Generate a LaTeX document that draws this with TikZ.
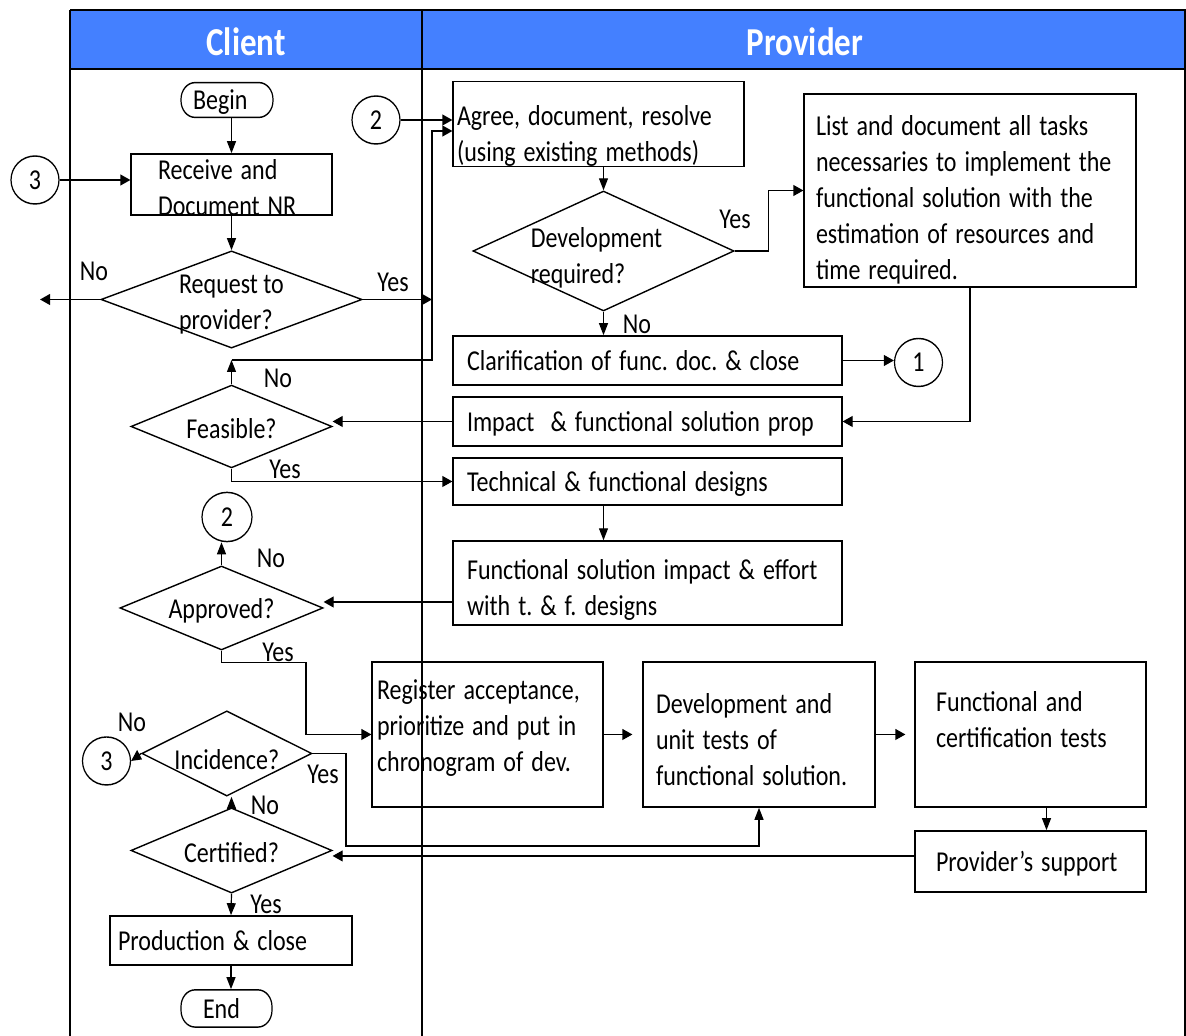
\documentclass[tikz,border=0pt]{standalone}
\usepackage{fontspec}
\setmainfont{Carlito}
\usetikzlibrary{shapes.geometric,arrows.meta}
\definecolor{laneblue}{RGB}{68,128,255}
\frenchspacing

\begin{document}
\begin{tikzpicture}[x=1pt,y=-0.8333pt,
	line width=1.2pt,
	font=\fontsize{24}{30}\selectfont,
	box/.style={draw, rectangle, align=left, inner sep=0pt},
	oneline/.style={text depth=0pt},
	decision/.style={draw, diamond, inner sep=0pt},
	term/.style={draw, rectangle, rounded corners=14pt, inner sep=0pt, align=left, text depth=0pt},
	conn/.style={draw, ellipse, inner sep=0pt, minimum width=48pt, minimum height=40pt},
	dtext/.style={align=left, inner sep=0pt},
	tag/.style={inner sep=0pt},
	arr/.style={-{Triangle[length=10pt,width=9pt]}}
]
	\useasboundingbox (0pt,0pt) rectangle (1186pt,-1036pt);
	\begin{scope}[transform canvas={yscale=1.2}]

	% swimlanes
	\fill[laneblue] (70,10) rectangle (1186,69);
	\draw (70,10) -- (1186,10) (70,69) -- (1186,69);
	\draw (70,10) -- (70,1036) (422,10) -- (422,1036) (1185,10) -- (1185,1036);
	\node (client) at (246,42) [font=\fontsize{33}{36}\selectfont\bfseries, text=white] {Client};
	\node (provider) at (805,42) [font=\fontsize{33}{36}\selectfont\bfseries, text=white] {Provider};

	% client lane
	\node (begin) at (227,100) [term, minimum width=92pt, minimum height=29pt, text width=68pt] {Begin};
	\node (rcv) at (231.5,184.5) [box, minimum width=201pt, minimum height=51pt, text width=147pt, text height=18pt, text depth=25.5pt] {Receive and\\Document NR};
	\node (c3a) at (35,180) [conn] {3};
	\node (req) at (231.5,299.5) [decision, minimum width=261pt, minimum height=81pt, label={[dtext,yshift=-4pt]center:Request to\\provider?}] {};
	\node (feas) at (231.5,426.5) [decision, minimum width=201pt, minimum height=69pt, label={[dtext,yshift=-2pt]center:Feasible?}] {};
	\node (c2b) at (227,517) [conn, minimum width=50pt, minimum height=41pt] {2};
	\node (appr) at (221.5,608) [decision, minimum width=203pt, minimum height=70pt, label={[dtext,yshift=-2pt]center:Approved?}] {};
	\node (inc) at (226.8,753.5) [decision, minimum width=170pt, minimum height=71pt, label={[dtext,yshift=-5pt]center:Incidence?}] {};
	\node (c3b) at (106.5,761) [conn] {3};
	\node (cert) at (231.5,850.5) [decision, minimum width=201pt, minimum height=71pt, label={[dtext,yshift=-2pt]center:Certified?}] {};
	\node (prod) at (231,940.5) [box, oneline, minimum width=242pt, minimum height=41pt, text width=226pt] {Production \& close};
	\node (endn) at (226.5,1008.5) [term, minimum width=91pt, minimum height=31pt, text width=47pt] {End};

	% provider lane
	\node (c2a) at (376,120) [conn] {2};
	\node (agree) at (598.5,124) [box, minimum width=291pt, minimum height=70pt, text width=283pt, text height=37pt] {Agree, document, resolve\\(using existing methods)};
	\node (devq) at (603.5,251) [decision, minimum width=261pt, minimum height=100pt, label={[dtext,xshift=-7pt,yshift=-6pt]center:Development\\required?}] {};
	\node (list) at (970,190.5) [box, minimum width=332pt, minimum height=161pt, text width=308pt, text height=33pt] {List and document all tasks\\necessaries to implement the\\functional solution with the\\estimation of resources and\\time required.};
	\node (clar) at (647.5,360.5) [box, oneline, minimum width=389pt, minimum height=41pt, text width=361pt] {Clarification of func. doc. \& close};
	\node (c1) at (918.5,362.5) [conn] {1};
	\node (impact) at (647.5,421.5) [box, oneline, minimum width=389pt, minimum height=41pt, text width=361pt] {Impact\ \ \& functional solution prop};
	\node (tech) at (647.5,481.5) [box, oneline, minimum width=389pt, minimum height=39pt, text width=361pt] {Technical \& functional designs};
	\node (fsol) at (647.5,583) [box, minimum width=389pt, minimum height=70pt, text width=361pt, text height=27.5pt] {Functional solution impact \& effort\\with t. \& f. designs};
	\node (reg) at (487.5,734.5) [box, minimum width=231pt, minimum height=121pt, text width=221pt, text depth=75pt] {Register acceptance,\\prioritize and put in\\chronogram of dev.};
	\node (dev) at (759,734.5) [box, minimum width=232pt, minimum height=121pt, text width=206pt, text height=25.5pt] {Development and\\unit tests of\\functional solution.};
	\node (ftest) at (1030.5,734.5) [box, minimum width=231pt, minimum height=121pt, text width=189pt, text depth=55pt] {Functional and\\certification tests};
	\node (supp) at (1030.5,861.5) [box, oneline, minimum width=231pt, minimum height=51pt, text width=189pt] {Provider’s support};

	% yes / no
	\node (no1) at (94,271) [tag] {No};
	\node (yes1) at (393,282) [tag] {Yes};
	\node (yes2) at (735,219) [tag] {Yes};
	\node (no2) at (637,324) [tag] {No};
	\node (no3) at (278,378) [tag] {No};
	\node (yes3) at (285,469) [tag] {Yes};
	\node (no4) at (271,558) [tag] {No};
	\node (yes4) at (278,652) [tag] {Yes};
	\node (no5) at (132,722) [tag] {No};
	\node (yes5) at (323,774) [tag] {Yes};
	\node (no6) at (265,805) [tag] {No};
	\node (yes6) at (266,904) [tag] {Yes};

	\coordinate (noend) at (40,299.5);
	\coordinate (bus) at (432,299.5);
	\coordinate (fjoin) at (231.5,360);
	\coordinate (busin) at (432,131);
	\coordinate (ybend) at (306,662.5);
	\coordinate (ibend) at (346,846);

	% connectors
	\draw[arr] (rcv.north |- begin.south) -- (rcv.north);
	\draw[arr] (c3a.east) -- (c3a.east -| rcv.west);
	\draw[arr] (rcv.south) -- (req.north);
	\draw[arr] (req.west) -- (noend);
	\draw[arr] (req.east) -- (bus);
	\draw[arr] (c2a.east) -- (c2a.east -| agree.west);
	\draw[arr] (feas.north) -- (fjoin);
	\draw[arr] (fjoin) -| (busin) -- (busin -| agree.west);
	\draw[arr] (devq.north |- agree.south) -- (devq.north);
	\draw[arr] (devq.east) -- ++(34,0) |- (list.west);
	\draw[arr] (devq.south) -- (devq.south |- clar.north);
	\draw[arr] (clar.east) -- (clar.east -| c1.west);
	\draw[arr] (list.south) |- (impact.east);
	\draw[arr] (impact.west) -- (impact.west -| feas.east);
	\draw[arr] (feas.south) |- (tech.west);
	\draw[arr] (devq.south |- tech.south) -- (devq.south |- fsol.north);
	\draw[arr] ([yshift=5pt]fsol.west |- appr.east) -- ([yshift=5pt]appr.east);
	\draw[arr] (appr.north) -- (appr.north |- c2b.south);
	\draw[arr] (appr.south) |- (ybend) |- (reg.west);
	\draw[arr, shorten >=10pt] (reg.east) -- (dev.west);
	\draw[arr, shorten >=9pt] (dev.east) -- (ftest.west);
	\draw[arr] ([xshift=16pt]ftest.south) -- ([xshift=16pt]supp.north);
	\draw[arr] ([yshift=4.6pt]supp.west) -- ([yshift=4.6pt]supp.west -| cert.east);
	\draw[arr] (inc.east) -| (ibend) -| (dev.south);
	\draw[arr] (inc.west) -- (c3b.east);
	\draw[arr] (cert.north) -- (cert.north |- inc.south);
	\draw[arr] (cert.south) -- (prod.north);
	\draw[arr] (prod.south) -- (prod.south |- endn.north);
	\end{scope}
\end{tikzpicture}
\end{document}
